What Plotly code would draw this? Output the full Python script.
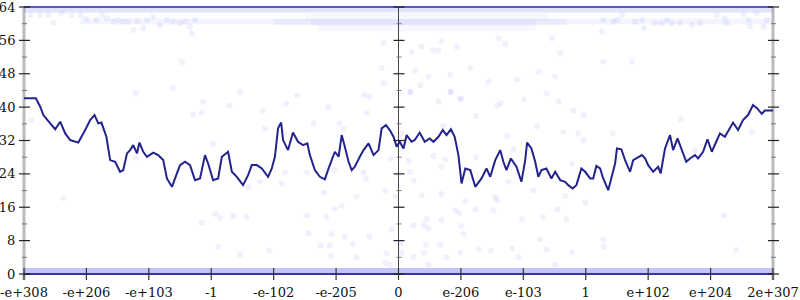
import plotly.graph_objects as go

# ---------------- data ----------------
x_tick_vals = [0, 1, 2, 3, 4, 5, 6, 7, 8, 9, 10, 11, 12]
x_tick_labels = ["-e+308", "-e+206", "-e+103", "-1", "-e-102", "-e-205", "0",
                 "e-206", "e-103", "1", "e+102", "e+204", "2e+307"]
y_major = [0, 8, 16, 24, 32, 40, 48, 56, 64]
y_minor = [4, 12, 20, 28, 36, 44, 52, 60]

line_x = [0.00, 0.19, 0.26, 0.31, 0.42, 0.50, 0.58, 0.66, 0.74, 0.87, 0.98, 1.06, 1.13, 1.19,
          1.24, 1.32, 1.38, 1.46, 1.54, 1.59, 1.65, 1.70, 1.75, 1.81, 1.85, 1.91, 1.97, 2.07,
          2.15, 2.23, 2.29, 2.37, 2.45, 2.50, 2.58, 2.66, 2.74, 2.82, 2.90, 2.95, 3.03, 3.11,
          3.17, 3.27, 3.33, 3.41, 3.51, 3.59, 3.65, 3.73, 3.81, 3.86, 3.91, 3.97, 4.02, 4.07,
          4.12, 4.15, 4.23, 4.31, 4.39, 4.47, 4.54, 4.58, 4.66, 4.74, 4.82, 4.88, 4.93, 4.98,
          5.04, 5.09, 5.14, 5.20, 5.25, 5.30, 5.38, 5.44, 5.52, 5.60, 5.68, 5.73, 5.80, 5.86,
          5.92, 5.97, 6.02, 6.08, 6.13, 6.21, 6.26, 6.34, 6.42, 6.50, 6.56, 6.64, 6.71, 6.77,
          6.84, 6.90, 6.96, 7.01, 7.07, 7.15, 7.23, 7.33, 7.41, 7.47, 7.55, 7.63, 7.68, 7.73,
          7.80, 7.89, 7.97, 8.03, 8.06, 8.13, 8.19, 8.24, 8.29, 8.37, 8.45, 8.51, 8.59, 8.67,
          8.72, 8.79, 8.85, 8.93, 8.99, 9.07, 9.12, 9.17, 9.23, 9.28, 9.36, 9.41, 9.47, 9.50,
          9.57, 9.63, 9.71, 9.76, 9.84, 9.90, 9.95, 10.00, 10.08, 10.16, 10.20, 10.27, 10.35,
          10.40, 10.47, 10.54, 10.61, 10.67, 10.75, 10.80, 10.88, 10.95, 11.02, 11.09, 11.15,
          11.23, 11.28, 11.36, 11.44, 11.52, 11.60, 11.68, 11.74, 11.82, 11.87, 12.00]
line_y = [42.1, 42.1, 40.1, 38.1, 36.1, 34.7, 36.5, 33.7, 32.1, 31.5, 34.5, 36.9, 38.1, 36.1,
          36.3, 32.9, 27.3, 26.9, 24.5, 24.9, 28.9, 29.7, 30.9, 28.9, 31.5, 29.3, 28.1, 29.1,
          28.5, 27.3, 22.9, 20.9, 24.1, 26.1, 26.9, 26.1, 22.5, 22.9, 28.5, 26.5, 22.5, 22.9,
          28.1, 29.3, 24.5, 23.3, 21.3, 23.7, 26.1, 26.1, 25.3, 24.3, 23.3, 25.3, 28.1, 34.9,
          36.3, 32.1, 29.7, 33.9, 31.7, 30.9, 31.3, 28.5, 24.9, 23.3, 22.7, 25.3, 27.3, 29.3,
          28.1, 33.3, 30.5, 26.9, 24.9, 25.7, 28.1, 29.7, 31.3, 28.5, 29.7, 34.9, 35.7, 34.5,
          32.9, 30.5, 31.7, 30.1, 33.3, 31.7, 32.1, 33.9, 31.7, 32.5, 31.7, 32.9, 34.5, 33.3,
          34.7, 32.9, 28.5, 21.7, 25.3, 24.9, 20.9, 22.9, 25.3, 23.3, 27.3, 29.7, 26.9, 24.9,
          27.7, 25.7, 22.1, 27.3, 31.5, 30.1, 26.9, 23.3, 24.9, 25.3, 22.9, 24.5, 22.5, 22.1,
          21.3, 20.5, 21.3, 25.3, 24.5, 22.9, 22.9, 25.9, 25.3, 22.9, 20.1, 23.3, 26.5, 30.1,
          29.9, 27.3, 24.5, 27.3, 28.1, 28.5, 27.7, 26.1, 24.5, 25.7, 24.1, 30.1, 33.3,
          29.7, 32.5, 29.7, 26.9, 27.7, 28.5, 27.7, 29.3, 32.3, 29.3, 31.7, 33.7,
          32.9, 34.1, 36.3, 34.5, 36.9, 38.1, 40.5, 39.8, 38.4, 39.2, 39.2]

cloud_x = [2.53, 1.79, 2.38, 0.12, 2.71, 1.79, 0.63, 2.87, 3.29, 3.46, 3.83, 4.20, 4.37, 4.88,
           4.64, 5.06, 5.45, 5.49, 5.54, 3.03, 3.86, 4.16, 5.12, 5.87, 4.18, 4.53, 4.98, 5.44,
           3.78, 4.13, 3.59, 4.81, 5.33, 5.48, 5.79, 5.95, 2.85, 3.06, 3.14, 3.35, 3.56, 2.85,
           3.11, 3.46, 3.93, 4.53, 4.84, 4.56, 4.93, 4.98, 5.09, 5.14, 5.27, 4.75, 4.90, 4.92,
           5.33, 5.53, 5.81, 5.89, 5.79, 5.87, 7.07, 6.91, 6.98, 7.23, 7.52, 7.58, 6.45, 6.24,
           6.41, 6.48, 6.69, 7.00, 7.04, 7.98, 8.32, 8.55, 8.69, 8.99, 6.03, 6.44, 6.67, 6.99,
           7.28, 7.48, 7.82, 8.27, 8.37, 8.78, 6.24, 6.41, 6.77, 7.92, 6.05, 6.48, 8.51, 9.28,
           9.29, 11.22, 11.41, 6.19, 6.84, 7.00, 7.58, 7.64, 8.01, 8.37, 8.56, 8.80, 8.96, 6.64,
           7.24, 6.05, 6.72, 8.22, 8.64, 7.74, 8.88, 8.96, 6.56, 7.24, 7.84, 6.75, 6.16, 6.69,
           6.19, 6.24, 7.76, 6.37, 6.69, 7.55, 8.67, 8.78, 8.16, 9.43, 10.52, 10.75, 11.66,
           6.21, 6.37, 6.55, 6.64, 6.93, 5.76, 6.69, 7.15, 6.27, 5.73, 8.59, 7.60, 7.71, 8.46,
           6.48, 6.83, 7.44, 7.90, 8.51, 8.24, 5.76, 6.19, 6.35, 6.83, 6.99,
           0.10, 0.26, 0.39, 0.47, 0.60, 0.76, 0.90, 1.00, 1.16, 1.25, 1.33, 1.43, 1.51, 1.59,
           1.67, 1.75, 1.81, 1.91, 1.97, 2.07, 2.18, 2.29, 2.39, 2.50, 2.58, 2.66, 2.69, 2.74,
           9.28, 9.44, 9.50, 9.58, 9.79, 9.90, 9.93, 10.11, 10.22, 10.30, 10.38, 10.51, 10.70,
           10.83, 11.10, 11.23, 11.26, 11.53, 11.61, 11.63, 11.74, 11.85, 11.90, 9.28, 9.74, 9.26]
cloud_y = [50.8, 43.3, 44.5, 36.9, 38.1, 27.8, 18.2, 41.3, 40.3, 43.7, 39.2, 40.8, 42.7, 40.0,
           36.1, 36.1, 42.9, 38.7, 42.5, 31.3, 34.9, 33.7, 34.7, 27.5, 24.3, 24.3, 24.9, 24.3,
           22.1, 21.7, 20.8, 19.5, 18.5, 22.9, 20.1, 18.5, 38.7, 14.4, 13.4, 13.9, 13.7, 12.3,
           6.5, 4.6, 5.6, 14.1, 13.7, 9.8, 9.6, 15.7, 16.3, 8.9, 7.2, 6.8, 6.8, 4.3,
           4.0, 8.9, 5.0, 10.6, 2.6, 2.2, 17.3, 15.3, 14.6, 15.5, 15.3, 17.7, 13.1, 11.7,
           11.7, 10.9, 12.9, 11.5, 9.6, 13.1, 13.6, 15.5, 13.1, 17.1, 7.4, 7.0, 7.0, 5.1,
           5.8, 5.5, 6.2, 8.3, 5.8, 5.2, 4.1, 5.0, 4.0, 4.1, 5.1, 2.2, 2.2, 8.3,
           6.5, 14.1, 5.8, 43.5, 43.7, 41.9, 40.3, 40.9, 41.9, 43.2, 41.3, 39.2, 38.1, 41.3,
           37.9, 33.7, 35.5, 35.5, 34.1, 33.1, 33.7, 32.0, 28.3, 28.0, 29.9, 27.5, 27.2, 25.7,
           24.5, 22.4, 22.1, 18.9, 19.2, 18.5, 18.7, 26.4, 20.1, 33.7, 37.1, 29.7, 34.1,
           53.3, 54.5, 53.7, 53.5, 54.5, 55.5, 55.7, 49.3, 48.8, 49.3, 52.9, 56.5, 55.2, 56.5,
           47.3, 47.7, 46.1, 46.7, 47.3, 48.5, 45.7, 43.7, 45.3, 43.7, 42.1,
           62.1, 62.1, 62.1, 60.3, 62.5, 61.9, 62.1, 61.1, 60.9, 62.1, 61.3, 60.5, 60.9, 60.5,
           60.5, 58.5, 60.5, 58.9, 60.9, 61.7, 59.7, 60.9, 60.5, 60.1, 60.5, 59.3, 57.7, 60.9,
           60.9, 60.5, 60.9, 62.1, 60.5, 60.9, 58.9, 60.1, 60.1, 60.9, 60.1, 60.1, 59.7,
           60.1, 62.1, 61.3, 60.1, 62.1, 60.9, 59.3, 62.5, 59.3, 60.9, 50.9, 50.9, 58.1]

# dense horizontal bands of overlapping points (level, start, end, alpha, width)
band_y = [63.3, 60.5, 60.4, 60.2, 61.8, 58.9, 0.7]
band_x0 = [0, 0.9, 4.0, 4.6, 4.5, 4.7, 0]
band_x1 = [12, 12, 8.7, 8.2, 8.4, 8.2, 12]
band_alpha = [0.14, 0.06, 0.05, 0.05, 0.04, 0.035, 0.30]
band_width = [5, 6, 6, 6, 6, 6, 6]
top_level = 64

X_MIN, X_MAX = 0, 12
Y_MIN, Y_MAX = 0, 64

# ---------------- figure ----------------
FONT = "DejaVu Serif"
fig = go.Figure()

for yv, a, b, al, w in zip(band_y, band_x0, band_x1, band_alpha, band_width):
    fig.add_trace(go.Scatter(x=[a, b], y=[yv, yv], mode="lines",
                             line=dict(color=f"rgba(60,60,230,{al})", width=w),
                             hoverinfo="skip", showlegend=False))

fig.add_trace(go.Scatter(
    x=cloud_x, y=cloud_y, mode="markers",
    marker=dict(size=6, color="rgba(90,90,240,0.09)", line=dict(width=0)),
    showlegend=False))

fig.add_trace(go.Scatter(
    x=line_x, y=line_y, mode="lines",
    line=dict(color="#23238e", width=2),
    showlegend=False))


def px(v):  # data -> paper fraction along x
    return (v - X_MIN) / (X_MAX - X_MIN)


def py(v):  # data -> paper fraction along y
    return (v - Y_MIN) / (Y_MAX - Y_MIN)


shapes = []
# vertical axis lines (left / right grey, centre dark)
for xa, col, w in [(X_MIN, "#bbbbbb", 3), (X_MAX, "#bbbbbb", 3)]:
    shapes.append(dict(type="line", xref="paper", yref="paper", ysizemode="pixel", yanchor=0,
                       x0=px(xa), x1=px(xa), y0=-6, y1=267,
                       line=dict(color=col, width=w), layer="below"))
shapes.append(dict(type="line", xref="paper", yref="paper", x0=px(6), x1=px(6), y0=0, y1=1,
                   line=dict(color="#444444", width=1), layer="below"))
# dense row of points at the top level, and the bottom axis
shapes.append(dict(type="line", xref="paper", yref="paper", x0=0, x1=1,
                   y0=py(top_level), y1=py(top_level),
                   line=dict(color="rgba(70,70,195,0.9)", width=2), layer="above"))
shapes.append(dict(type="line", xref="paper", yref="paper", x0=0, x1=1, y0=0, y1=0,
                   line=dict(color="#3434a8", width=2), layer="above"))

# y ticks on the three vertical axes
for xa in [X_MIN, 6, X_MAX]:
    for yv in y_major:
        shapes.append(dict(type="line", xref="paper", yref="paper", xsizemode="pixel",
                           xanchor=px(xa), x0=-5, x1=6, y0=py(yv), y1=py(yv),
                           line=dict(color="#222222", width=1.2)))
    for yv in y_minor:
        shapes.append(dict(type="line", xref="paper", yref="paper", xsizemode="pixel",
                           xanchor=px(xa), x0=-2, x1=3, y0=py(yv), y1=py(yv),
                           line=dict(color="#777777", width=1)))
# x ticks
for xv in x_tick_vals:
    shapes.append(dict(type="line", xref="paper", yref="paper", ysizemode="pixel", yanchor=0,
                       x0=px(xv), x1=px(xv), y0=-6, y1=6,
                       line=dict(color="#333333", width=1.2)))

fig.update_layout(
    width=800, height=300,
    margin=dict(l=24, r=27, t=7, b=26, autoexpand=False),
    paper_bgcolor="white", plot_bgcolor="white",
    font=dict(family=FONT, size=13, color="#111111"),
    shapes=shapes,
    xaxis=dict(range=[X_MIN, X_MAX], tickvals=x_tick_vals, ticktext=x_tick_labels,
               showgrid=False, zeroline=False, showline=False, automargin=False,
               ticks="outside", ticklen=6, tickcolor="rgba(0,0,0,0)",
               ticklabeloverflow="allow",
               tickfont=dict(family=FONT, size=13, color="#111111")),
    yaxis=dict(range=[Y_MIN - 0.0001, Y_MAX + 0.0001], tickvals=y_major,
               ticktext=[str(v) for v in y_major],
               showgrid=False, zeroline=False, showline=False, automargin=False,
               ticks="outside", ticklen=5, tickcolor="rgba(0,0,0,0)",
               ticklabeloverflow="allow",
               tickfont=dict(family=FONT, size=13, color="#111111")),
)

fig.write_html("out.html")
